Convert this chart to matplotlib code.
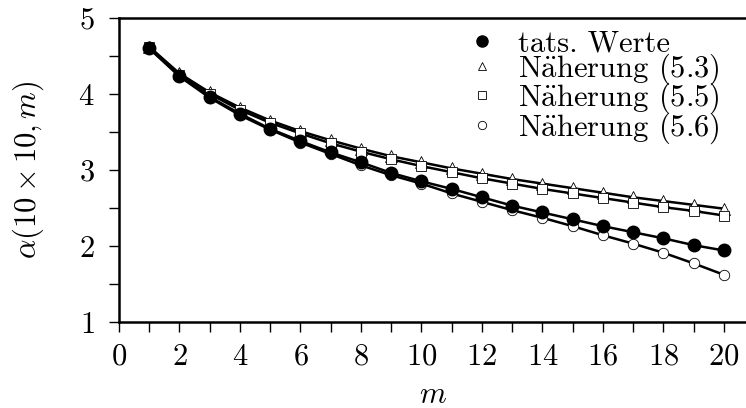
import matplotlib
matplotlib.use("Agg")
import matplotlib.pyplot as plt
from matplotlib.lines import Line2D
from matplotlib.ticker import MultipleLocator
import numpy as np

m = np.arange(1, 21)
tats = [4.60, 4.24, 3.96, 3.74, 3.54, 3.38, 3.23, 3.10, 2.96, 2.85,
        2.75, 2.64, 2.53, 2.44, 2.35, 2.26, 2.18, 2.10, 2.01, 1.94]
naeh53 = [4.62, 4.27, 4.02, 3.82, 3.65, 3.51, 3.39, 3.28, 3.18, 3.10,
          3.02, 2.95, 2.88, 2.82, 2.76, 2.70, 2.64, 2.59, 2.54, 2.49]
naeh55 = [4.62, 4.25, 4.00, 3.79, 3.62, 3.48, 3.35, 3.24, 3.14, 3.05,
          2.97, 2.89, 2.82, 2.75, 2.69, 2.63, 2.57, 2.51, 2.46, 2.40]
naeh56 = [4.60, 4.23, 3.95, 3.72, 3.53, 3.36, 3.21, 3.06, 2.93, 2.82,
          2.69, 2.58, 2.47, 2.37, 2.26, 2.14, 2.03, 1.91, 1.77, 1.62]
labels = ['tats. Werte', r'N$\mathrm{\ddot{a}}$herung (5.3)',
          r'N$\mathrm{\ddot{a}}$herung (5.5)', r'N$\mathrm{\ddot{a}}$herung (5.6)']

plt.rcParams['font.family'] = 'serif'
plt.rcParams['font.serif'] = ['cmr10']
plt.rcParams['mathtext.fontset'] = 'cm'
plt.rcParams['axes.formatter.use_mathtext'] = True

fig = plt.figure(figsize=(7.46, 4.08), dpi=100)
ax = fig.add_axes([0.1595, 0.211, 0.8405, 0.745])

ax.plot(m, naeh53, color='black', lw=1.8, marker='^', ms=8, mfc='white', mec='black', mew=0.6)
ax.plot(m, naeh55, color='black', lw=1.8, marker='s', ms=7.5, mfc='white', mec='black', mew=0.6)
ax.plot(m, naeh56, color='black', lw=1.8, marker='o', ms=7.5, mfc='white', mec='black', mew=0.6)
ax.plot(m, tats, color='black', lw=1.8, marker='o', ms=9, mfc='black', mec='black')

ax.set_xlim(0, 20.73)
ax.set_ylim(1, 5)
ax.xaxis.set_major_locator(MultipleLocator(2))
ax.xaxis.set_minor_locator(MultipleLocator(1))
ax.yaxis.set_major_locator(MultipleLocator(1))
ax.yaxis.set_minor_locator(MultipleLocator(0.5))
ax.spines['right'].set_visible(False)
for s in ['left', 'top', 'bottom']:
    ax.spines[s].set_linewidth(1.8)
ax.tick_params(which='both', direction='out', length=7.5, width=1, labelsize=22,
               top=False, right=False)
ax.tick_params(axis='x', which='both', pad=8)
ax.tick_params(axis='y', which='both', pad=10)

ax.set_xlabel(r'$m$', fontsize=22, labelpad=8)
ax.set_ylabel(r'$\alpha(10\times10,m)$', fontsize=22, labelpad=23)

handles = [
    Line2D([], [], ls='none', marker='o', ms=8, mfc='black', mec='black'),
    Line2D([], [], ls='none', marker='^', ms=6, mfc='white', mec='black', mew=0.6),
    Line2D([], [], ls='none', marker='s', ms=6, mfc='white', mec='black', mew=0.6),
    Line2D([], [], ls='none', marker='o', ms=6, mfc='white', mec='black', mew=0.6),
]
ax.legend(handles, labels, loc='upper right', frameon=False, fontsize=22,
          handlelength=0.8, handletextpad=0.8, labelspacing=-0.2,
          borderaxespad=0.0, bbox_to_anchor=(0.978, 1.0))

plt.savefig('out.png', dpi=100)
